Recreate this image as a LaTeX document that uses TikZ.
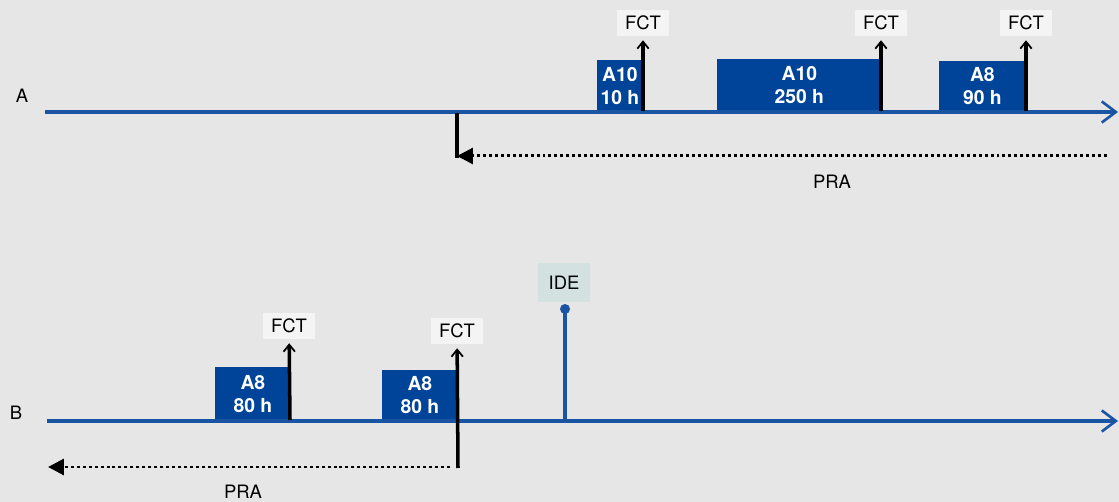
\documentclass[tikz,border=0pt]{standalone}
\usepackage{fontspec}
\setmainfont{TeX Gyre Heros}
\usetikzlibrary{arrows.meta,positioning}
\definecolor{axisblue}{HTML}{1A55A3}
\definecolor{boxblue}{HTML}{00449A}
\definecolor{bggray}{HTML}{E6E6E6}
\definecolor{tagwhite}{HTML}{F4F4F4}
\definecolor{idegray}{HTML}{D3E1E1}

\begin{document}
\begin{tikzpicture}[x=0.02cm, y=-0.02cm,
  axis/.style={axisblue, line width=1.9pt, -{Straight Barb[length=8pt,width=12pt,line width=1.5pt]}},
  blk/.style={fill=boxblue, text=white, font=\fontsize{11}{13.2}\selectfont\bfseries, align=center, inner sep=0pt, anchor=south west},
  tag/.style={fill=tagwhite, font=\fontsize{10.5}{12}\selectfont, inner xsep=4.5pt, minimum height=0.44cm},
  fct/.style={black, line width=2pt, -{Straight Barb[length=4pt,width=6.5pt,line width=1pt]}, shorten >=0.08cm},
  pra/.style={black, line width=1.7pt, dash pattern=on 1.7pt off 1.7pt, -{Triangle[length=9pt,width=9pt]}},
  lbl/.style={font=\fontsize{10.5}{12}\selectfont}]

\useasboundingbox (0,0) rectangle (1119,502);
\fill[bggray] (-5,-5) rectangle (1124,507);

% line A
\node[lbl] (la) at (22,96) {A};
\coordinate (a0) at (45,112);
\coordinate (a1) at (1118,112);
\foreach \nm/\x/\w/\h/\lab in {a1box/597/45/52/{A10\\10 h}, a2box/717/164/53/{A10\\250 h}, a3box/939/86/51/{A8\\90 h}}
  \node[blk, minimum width=\w*0.02cm, minimum height=\h*0.02cm] (\nm) at (\x,112) {\lab};
\draw[axis] (a0) -- (a1);

\foreach \i/\x in {1/643, 2/881, 3/1026} {
  \coordinate (fa\i) at (\x,111);
  \node[tag] (ta\i) at (\x,23) {FCT};
  \draw[fct] (fa\i) -- (ta\i);
}

% PRA on A
\coordinate (pa0) at (457,113);
\coordinate (pa1) at (457,158);
\coordinate (pa2) at (1107,156);
\coordinate (pa3) at (457,156);
\draw[black, line width=2.2pt] (pa0) -- (pa1);
\draw[pra] (pa2) -- (pa3);
\node[lbl] (pra1) at (832,182) {PRA};

% line B
\node[lbl] (lb) at (16,413) {B};
\coordinate (b0) at (47,421);
\coordinate (b1) at (1118,421);
\foreach \nm/\x/\w/\h in {b1box/215/75/54, b2box/382/75/51}
  \node[blk, minimum width=\w*0.02cm, minimum height=\h*0.02cm] (\nm) at (\x,421) {A8\\80 h};
\draw[axis] (b0) -- (b1);

\coordinate (fb1) at (290,420);
\node[tag] (tb1) at (289,326) {FCT};
\draw[fct] (fb1) -- (tb1);
\coordinate (fb2) at (458,468);
\node[tag] (tb2) at (457,331) {FCT};
\draw[fct] (fb2) -- (tb2);

% IDE
\coordinate (ide0) at (565,420);
\coordinate (ide1) at (565,309);
\node[tag, fill=idegray, minimum height=0.78cm, inner xsep=6pt] (ide) at (564,283) {IDE};
\draw[axisblue, line width=1.9pt] (ide0) -- (ide1);
\fill[axisblue] (ide1) circle (5);

% PRA on B
\coordinate (pb0) at (450,467);
\coordinate (pb1) at (48,467);
\draw[pra] (pb0) -- (pb1);
\node[lbl] (pra2) at (243,492) {PRA};

\end{tikzpicture}
\end{document}
